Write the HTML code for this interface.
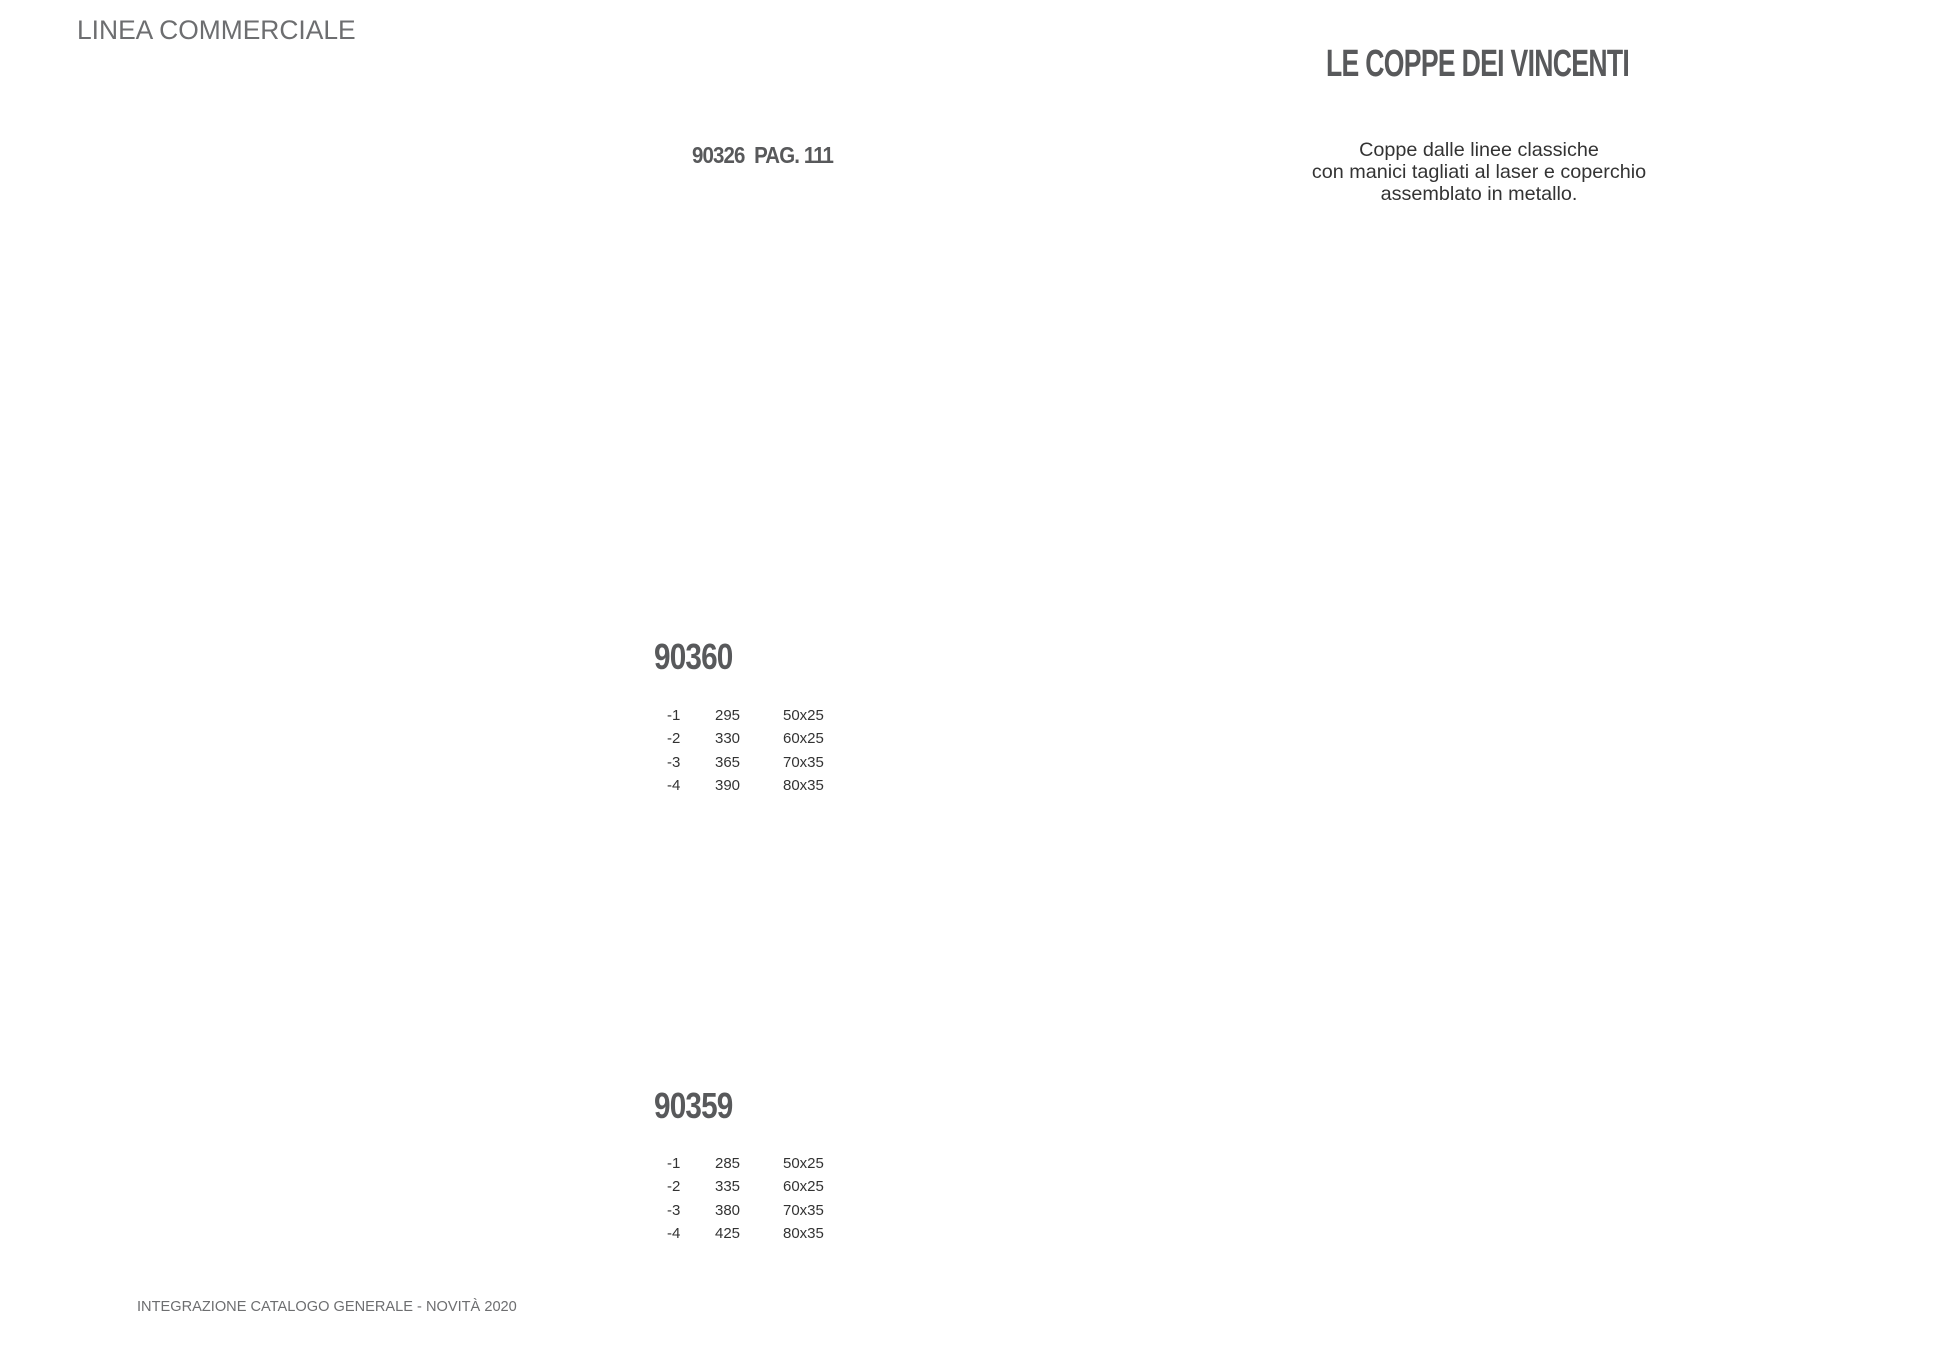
<!DOCTYPE html>
<html><head><meta charset="utf-8"><style>
body{margin:0;width:1940px;height:1350px;background:#fff;position:relative;font-family:"Liberation Sans",sans-serif;color:#58595b;overflow:hidden}
.a{position:absolute;white-space:nowrap}
.b{font-weight:bold;transform-origin:0 0;letter-spacing:-1px}
table{position:absolute;border-collapse:collapse;font-size:15px;color:#333}
td{padding:0;height:23.3px;line-height:23px}
</style></head><body>
<div class="a" style="left:77px;top:15px;font-size:26.4px;color:#6d6e70">LINEA COMMERCIALE</div>
<div class="a b" style="left:1326px;top:43px;font-size:38px;transform:scaleX(0.70)">LE COPPE DEI VINCENTI</div>
<div class="a b" style="left:692px;top:142px;font-size:23px;transform:scaleX(0.89)">90326&nbsp; PAG. 111</div>
<div class="a" style="left:1279px;width:400px;top:139px;font-size:19.8px;line-height:22px;text-align:center;color:#333">Coppe dalle linee classiche<br>con manici tagliati al laser e coperchio<br>assemblato in metallo.</div>
<div class="a b" style="left:654px;top:636px;font-size:36px;transform:scaleX(0.825)">90360</div>
<table style="left:667px;top:704px"><tr><td style="width:48px">-1</td><td style="width:68px">295</td><td>50x25</td></tr><tr><td>-2</td><td>330</td><td>60x25</td></tr><tr><td>-3</td><td>365</td><td>70x35</td></tr><tr><td>-4</td><td>390</td><td>80x35</td></tr></table>
<div class="a b" style="left:654px;top:1085px;font-size:36px;transform:scaleX(0.825)">90359</div>
<table style="left:667px;top:1152px"><tr><td style="width:48px">-1</td><td style="width:68px">285</td><td>50x25</td></tr><tr><td>-2</td><td>335</td><td>60x25</td></tr><tr><td>-3</td><td>380</td><td>70x35</td></tr><tr><td>-4</td><td>425</td><td>80x35</td></tr></table>
<div class="a" style="left:137px;top:1299px;font-size:14.6px;color:#6d6e70">INTEGRAZIONE CATALOGO GENERALE - NOVITÀ 2020</div>
</body></html>
